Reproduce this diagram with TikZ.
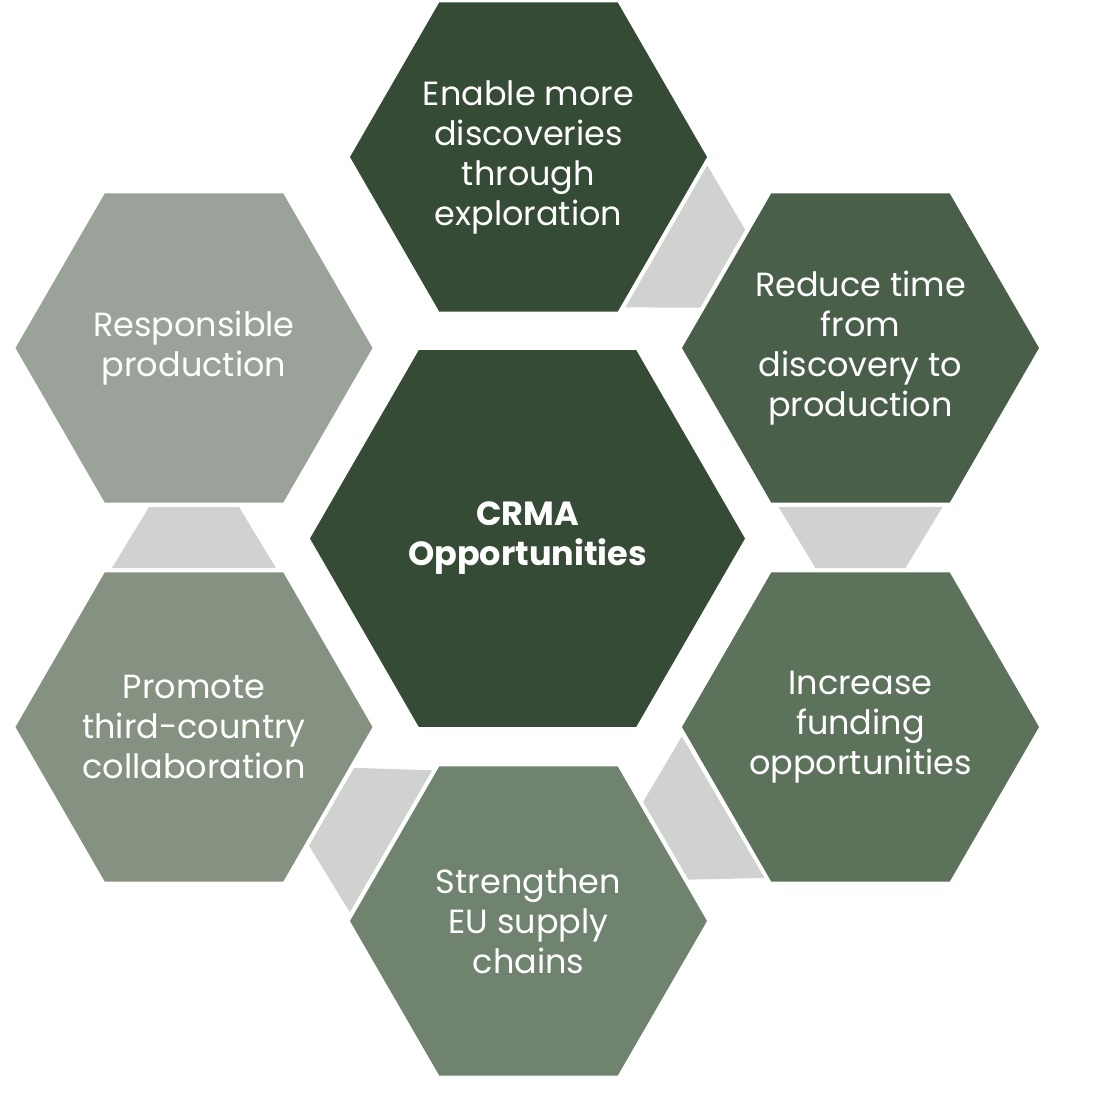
\documentclass[tikz,border=0pt]{standalone}
\usepackage{fontspec}
\setmainfont{Poppins}
\usetikzlibrary{shapes.geometric, calc}
\definecolor{hexcore}{RGB}{53,75,53}
\definecolor{hexone}{RGB}{53,75,53}
\definecolor{hextwo}{RGB}{74,95,74}
\definecolor{hexthree}{RGB}{93,114,91}
\definecolor{hexfour}{RGB}{111,131,111}
\definecolor{hexfive}{RGB}{133,146,130}
\definecolor{hexsix}{RGB}{155,162,154}
\definecolor{linkgray}{RGB}{208,210,207}

% trapezoid in the gap between two neighbouring hexagons
\newcommand{\linkfill}[2]{%
  \fill[linkgray] ($(#1)!159pt!(#2)!82pt!90:(#2)$) -- ($(#1)!159pt!(#2)!82pt!-90:(#2)$)
    -- ($(#2)!159pt!(#1)!45pt!90:(#1)$) -- ($(#2)!159pt!(#1)!45pt!-90:(#1)$) -- cycle;}

\begin{document}
\begin{tikzpicture}[x=1pt, y=-1pt,
  hextext/.style={text=white, align=center, inner sep=0pt,
    font=\fontsize{33.5}{40}\selectfont},
  hexbig/.style={regular polygon, regular polygon sides=6, minimum size=435pt,
    inner sep=0pt, outer sep=0pt,
    label={[hextext, font=\fontsize{33.5}{40}\selectfont\bfseries]center:#1}},
  hexsmall/.style={regular polygon, regular polygon sides=6, minimum size=357pt,
    inner sep=0pt, outer sep=0pt, label={[hextext]center:#1}}]
  \useasboundingbox (0,0) rectangle (1100,1092);

  \node[hexbig={CRMA\\Opportunities}, fill=hexcore] (crma) at (527.5,538.5) {};

  \node[hexsmall={Enable more\\discoveries\\through\\exploration}, fill=hexone] (explore) at (528.5,157) {};
  \node[hexsmall={Reduce time\\from\\discovery to\\production}, fill=hextwo] (reduce) at (860.5,348) {};
  \node[hexsmall={Increase\\funding\\opportunities}, fill=hexthree] (funding) at (860.5,727) {};
  \node[hexsmall={Strengthen\\EU supply\\chains}, fill=hexfour] (supply) at (528.5,921) {};
  \node[hexsmall={Promote\\third-country\\collaboration}, fill=hexfive] (thirdc) at (194,727) {};
  \node[hexsmall={Responsible\\production}, fill=hexsix] (respons) at (194,348) {};

  \linkfill{explore}{reduce}
  \linkfill{reduce}{funding}
  \linkfill{funding}{supply}
  \linkfill{supply}{thirdc}
  \linkfill{thirdc}{respons}
\end{tikzpicture}
\end{document}
